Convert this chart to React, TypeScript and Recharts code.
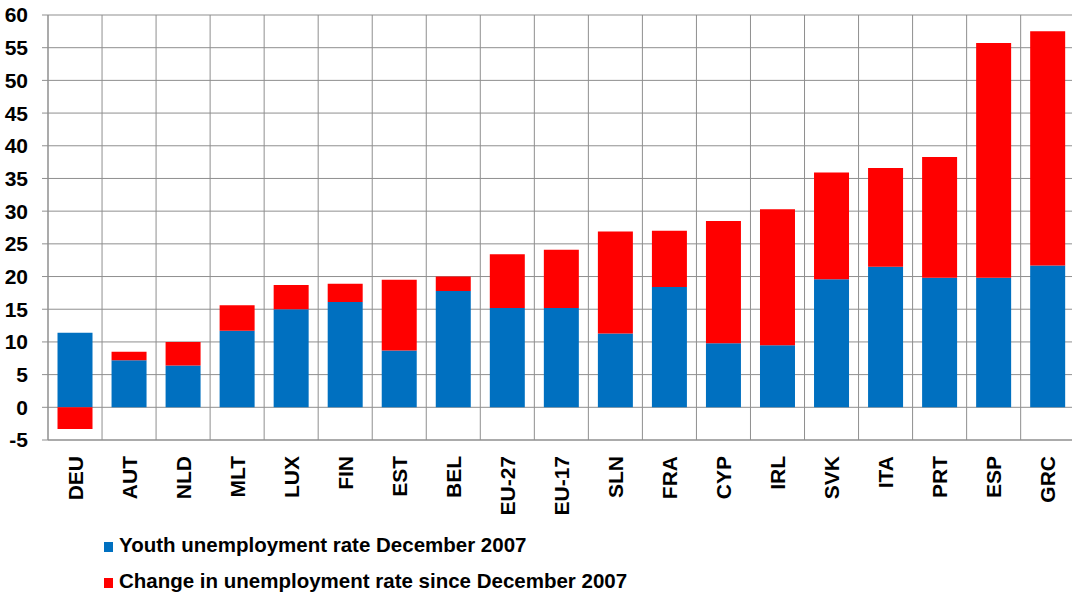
import React from "react";
import { BarChart, Bar, XAxis, YAxis, CartesianGrid } from "recharts";

const categories = ["DEU", "AUT", "NLD", "MLT", "LUX", "FIN", "EST", "BEL", "EU-27", "EU-17", "SLN", "FRA", "CYP", "IRL", "SVK", "ITA", "PRT", "ESP", "GRC"];
const youthRate2007 = [11.4, 7.2, 6.4, 11.7, 15.0, 16.1, 8.7, 17.8, 15.2, 15.2, 11.3, 18.4, 9.8, 9.5, 19.6, 21.5, 19.8, 19.8, 21.7];
const changeSince2007 = [-3.3, 1.3, 3.6, 3.9, 3.7, 2.8, 10.8, 2.2, 8.2, 8.9, 15.6, 8.6, 18.7, 20.8, 16.3, 15.1, 18.5, 35.9, 35.8];
const yTicks = [-5, 0, 5, 10, 15, 20, 25, 30, 35, 40, 45, 50, 55, 60];
const seriesNames = ["Youth unemployment rate December 2007", "Change in unemployment rate since December 2007"];
const seriesColors = ["#0070C0", "#FF0000"];

const data = categories.map((c, i) => ({ name: c, youth: youthRate2007[i], change: changeSince2007[i] }));

const FONT = "'Liberation Sans', Arial, sans-serif";
const GRID = "#8f8f8f";

const XTick = (props: any) => {
  const { x, y, payload } = props;
  const ty = y + 14;
  return (
    <text
      x={x}
      y={ty}
      transform={`rotate(-90, ${x}, ${ty})`}
      textAnchor="end"
      dy="0.36em"
      fontFamily={FONT}
      fontWeight="bold"
      fontSize={21}
      fill="#000"
    >
      {payload.value}
    </text>
  );
};

export default function App() {
  return (
    <div style={{ position: "absolute", left: 0, top: 0, width: 1072, height: 596, overflow: "hidden", background: "#fff" }}>
      <BarChart
        width={1080}
        height={596}
        data={data}
        stackOffset="sign"
        barCategoryGap="17.6%"
        margin={{ top: 15, right: 5.3, left: 0, bottom: 0 }}
      >
        <CartesianGrid
          stroke={GRID}
          strokeWidth={1}
          verticalCoordinatesGenerator={({ offset }: any) =>
            categories.map((_, i) => offset.left + (i * offset.width) / categories.length).concat([offset.left + offset.width])
          }
        />
        <XAxis
          dataKey="name"
          interval={0}
          height={156}
          tickLine={false}
          tickSize={0}
          axisLine={{ stroke: GRID }}
          tick={<XTick />}
        />
        <YAxis
          type="number"
          domain={[-5, 60]}
          ticks={yTicks}
          interval={0}
          width={48}
          tickSize={6}
          tickMargin={14}
          tickLine={{ stroke: GRID }}
          axisLine={{ stroke: GRID }}
          tick={{ fontFamily: FONT, fontWeight: "bold", fontSize: 21, fill: "#000" }}
        />
        <Bar dataKey="youth" name={seriesNames[0]} stackId="a" fill={seriesColors[0]} isAnimationActive={false} />
        <Bar dataKey="change" name={seriesNames[1]} stackId="a" fill={seriesColors[1]} isAnimationActive={false} />
      </BarChart>
      {seriesNames.map((n, i) => (
        <div
          key={n}
          style={{
            position: "absolute",
            left: 104,
            top: 533 + i * 36,
            height: 24,
            lineHeight: "24px",
            fontFamily: FONT,
            fontWeight: "bold",
            fontSize: 20.5,
            color: "#000",
            whiteSpace: "nowrap",
            display: "flex",
            alignItems: "center",
          }}
        >
          <span style={{ display: "inline-block", width: 9, height: 10, background: seriesColors[i], marginRight: 6, marginTop: 4 }} />
          <span>{n}</span>
        </div>
      ))}
    </div>
  );
}
